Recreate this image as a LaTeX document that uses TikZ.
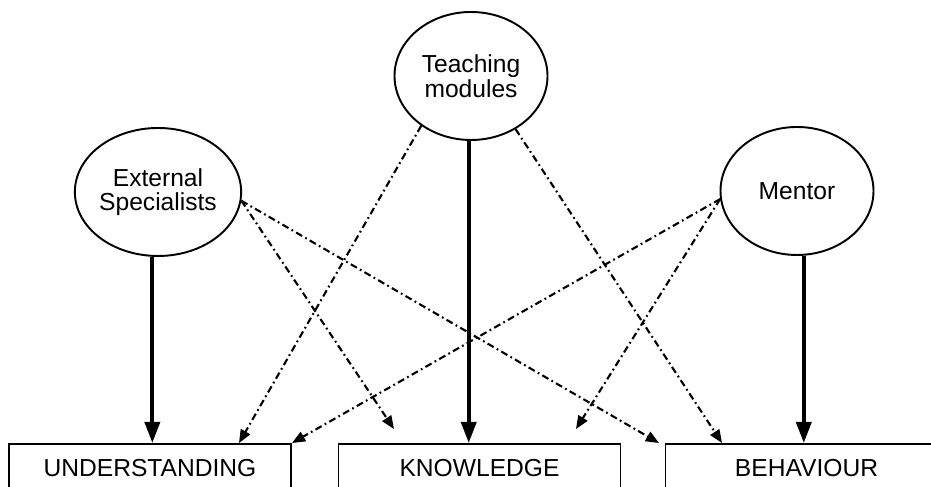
\documentclass[tikz,border=0pt]{standalone}
\usepackage{fontspec}
\setmainfont{Liberation Sans}
\usetikzlibrary{arrows.meta}
\usetikzlibrary{shapes.geometric}

\begin{document}
\begin{tikzpicture}[
    source/.style={draw, ellipse, line width=1.1pt, minimum width=3.06cm, minimum height=2.56cm, inner sep=0pt, align=center, font=\fontsize{14}{14}\selectfont},
    outcome/.style={draw, rectangle, line width=1.1pt, minimum width=5.64cm, minimum height=0.96cm, inner sep=0pt, font=\fontsize{14}{14}\selectfont},
    direct/.style={line width=2.2pt, -{Triangle[length=12pt,width=8.5pt]}},
    indirect/.style={line width=1.2pt, dash pattern=on 4pt off 2pt on 1pt off 2pt, -{Triangle[length=7.5pt,width=6pt]}}]
  \useasboundingbox (0,0) rectangle (18.62,9.74);

  \node [source] (ext) at (3.16,5.90) {External\\Specialists}; % left source
  \node [source] (teach) at (9.42,8.22) {Teaching\\modules}; % top source
  \node [source] (mentor) at (15.94,5.92) {Mentor}; % right source

  \node [outcome] (und) at (3.00,0.38) {UNDERSTANDING};
  \node [outcome] (know) at (9.59,0.38) {KNOWLEDGE};
  \node [outcome] (beh) at (16.13,0.38) {BEHAVIOUR};

  \draw [direct] (ext.-95) -- (ext.-95 |- und.north);
  \draw [direct] (teach.-92) -- (teach.-92 |- know.north);
  \draw [direct] (mentor.-84) -- (mentor.-84 |- beh.north);

  \draw [indirect] (teach.-135) -- ([xshift=1.78cm]und.north);
  \draw [indirect] (teach.-50) -- ([xshift=-1.69cm]beh.north);

  \draw [indirect] (ext.-6) -- ([xshift=-1.71cm,yshift=0.28cm]know.north);
  \draw [indirect] (ext.-6) -- ([xshift=-2.95cm]beh.north);

  \draw [indirect] (mentor.186) -- (und.north east);
  \draw [indirect] (mentor.186) -- ([xshift=1.93cm,yshift=0.28cm]know.north);
\end{tikzpicture}
\end{document}
